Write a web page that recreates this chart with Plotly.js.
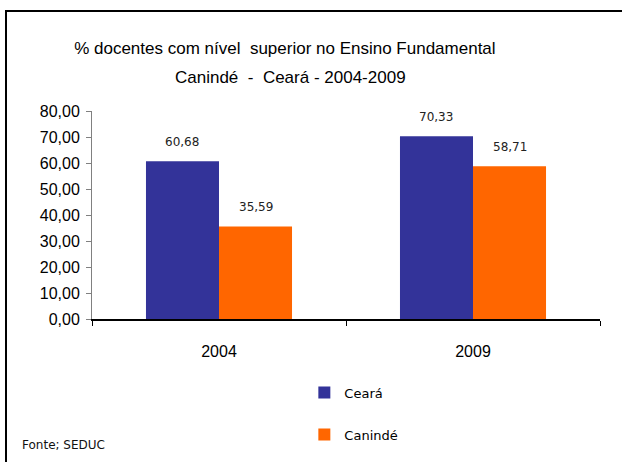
<!DOCTYPE html>
<html>
<head>
<meta charset="utf-8">
<script src="https://cdn.plot.ly/plotly-3.0.1.min.js"></script>
<style>
  html, body { margin: 0; padding: 0; background: #fff; overflow: hidden; }
  #frame { position: absolute; left: 5px; top: 10px; width: 800px; height: 600px; border: 2px solid #000; }
  #chart { position: absolute; left: 0; top: 0; width: 622px; height: 462px; }
</style>
</head>
<body>
<div id="frame"></div>
<div id="chart"></div>
<script>
const categories = ['2004', '2009'];
const seriesNames = ['Ceará', 'Canindé'];
const cearaValues = [60.68, 70.33];
const canindeValues = [35.59, 58.71];
const yTickValues = [0, 10, 20, 30, 40, 50, 60, 70, 80];
const titleLine1 = '% docentes com nível&nbsp;&nbsp;superior no Ensino Fundamental';
const titleLine2 = 'Canindé&nbsp;&nbsp;-&nbsp;&nbsp;Ceará - 2004-2009';
const sourceNote = 'Fonte; SEDUC';

const colors = ['#333399', '#FF6600'];
const seriesValues = [cearaValues, canindeValues];

const fmt = v => v.toFixed(2).replace('.', ',');

const traces = seriesValues.map((vals, i) => ({
  type: 'bar',
  name: seriesNames[i],
  x: categories,
  y: vals,
  marker: { color: colors[i], line: { width: 0 } },
  legendgroup: 'g' + i,
  hoverinfo: 'none'
}));

const plotW = 622 - 92 - 22;
const bargap = 0.425;
const barW = plotW / categories.length * (1 - bargap) / 2;

const annotations = [];
seriesValues.forEach((vals, i) => {
  vals.forEach((v, j) => {
    annotations.push({
      x: j, y: v, xref: 'x', yref: 'y',
      xshift: (i === 0 ? -1 : 1) * barW / 2,
      yshift: 10, yanchor: 'bottom', showarrow: false,
      text: fmt(v),
      font: { family: 'DejaVu Sans', size: 12, color: '#222' }
    });
  });
});
annotations.push({
  xref: 'paper', yref: 'paper', x: 0.39, y: 1.1596,
  xanchor: 'center', yanchor: 'middle', showarrow: false,
  text: titleLine2,
  font: { family: 'Liberation Sans', size: 17, color: '#000' }
});
annotations.push({
  xref: 'paper', yref: 'paper', x: -0.142, y: -0.606,
  xanchor: 'left', yanchor: 'middle', showarrow: false,
  text: sourceNote,
  font: { family: 'DejaVu Sans', size: 12, color: '#111' }
});

const layout = {
  width: 622, height: 462,
  paper_bgcolor: 'rgba(0,0,0,0)',
  plot_bgcolor: 'rgba(0,0,0,0)',
  margin: { l: 92, r: 22, t: 111, b: 138 },
  separators: ',.',
  title: {
    text: titleLine1,
    x: 0.458, xanchor: 'center',
    y: 0.896, yanchor: 'middle', yref: 'container',
    font: { family: 'Liberation Sans', size: 17, color: '#000' }
  },
  bargap: bargap,
  bargroupgap: 0,
  barmode: 'group',
  xaxis: {
    type: 'category',
    range: [-0.5, categories.length - 0.5],
    autorange: false,
    showline: true, linecolor: '#000', linewidth: 1.5,
    ticks: 'outside', tickson: 'boundaries', ticklen: 5, tickcolor: '#000',
    tickfont: { family: 'Liberation Sans', size: 16, color: '#000' },
    tickangle: 0,
    ticklabelstandoff: 17,
    showgrid: false, zeroline: false
  },
  yaxis: {
    range: [0, 80],
    autorange: false,
    tickvals: yTickValues,
    tickformat: '.2f',
    showline: true, linecolor: '#808080', linewidth: 1,
    ticks: 'outside', ticklen: 5, tickcolor: '#808080',
    tickfont: { family: 'Liberation Sans', size: 16, color: '#000' },
    ticklabelstandoff: 3,
    showgrid: false, zeroline: false
  },
  showlegend: true,
  legend: {
    x: 0.418, xanchor: 'left', y: -0.282, yanchor: 'top',
    orientation: 'v', tracegroupgap: 22,
    font: { family: 'DejaVu Sans', size: 13, color: '#000' },
    bgcolor: 'rgba(0,0,0,0)'
  },
  annotations: annotations
};

Plotly.newPlot('chart', traces, layout, { displayModeBar: false, staticPlot: true });
</script>
</body>
</html>
